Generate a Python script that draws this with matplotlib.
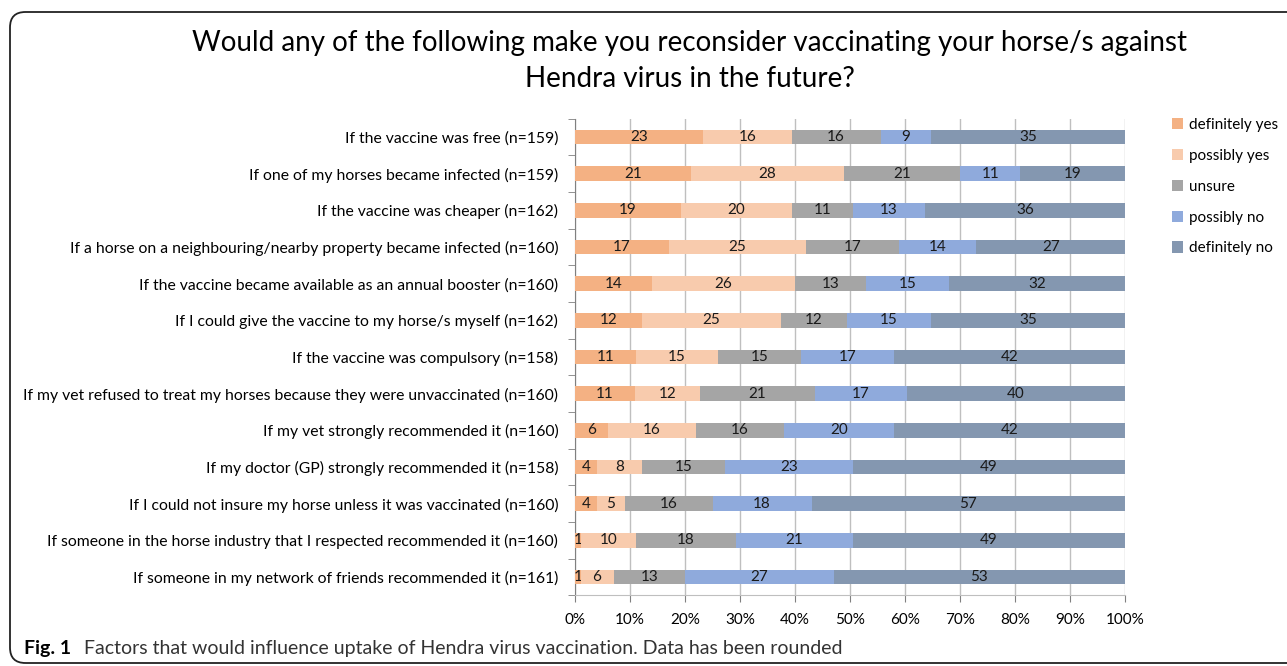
import matplotlib.pyplot as plt
import numpy as np
from matplotlib.patches import FancyBboxPatch
from matplotlib.ticker import FixedLocator, PercentFormatter

plt.rcParams['font.family'] = ['Lato', 'DejaVu Sans']

# data (percent per answer, rounded as in the chart)
questions = [
    "If the vaccine was free (n=159)",
    "If one of my horses became infected (n=159)",
    "If the vaccine was cheaper (n=162)",
    "If a horse on a neighbouring/nearby property became infected (n=160)",
    "If the vaccine became available as an annual booster (n=160)",
    "If I could give the vaccine to my horse/s myself (n=162)",
    "If the vaccine was compulsory (n=158)",
    "If my vet refused to treat my horses because they were unvaccinated (n=160)",
    "If my vet strongly recommended it (n=160)",
    "If my doctor (GP) strongly recommended it (n=158)",
    "If I could not insure my horse unless it was vaccinated (n=160)",
    "If someone in the horse industry that I respected recommended it (n=160)",
    "If someone in my network of friends recommended it (n=161)",
]
answers = ["definitely yes", "possibly yes", "unsure", "possibly no", "definitely no"]
definitely_yes = [23, 21, 19, 17, 14, 12, 11, 11, 6, 4, 4, 1, 1]
possibly_yes = [16, 28, 20, 25, 26, 25, 15, 12, 16, 8, 5, 10, 6]
unsure = [16, 21, 11, 17, 13, 12, 15, 21, 16, 15, 16, 18, 13]
possibly_no = [9, 11, 13, 14, 15, 15, 17, 17, 20, 23, 18, 21, 27]
definitely_no = [35, 19, 36, 27, 32, 35, 42, 40, 42, 49, 57, 49, 53]
colors = ["#F4B183", "#F8CBAD", "#A5A5A5", "#8FAADC", "#8497B0"]

vals = np.array([definitely_yes, possibly_yes, unsure, possibly_no, definitely_no], dtype=float)
shares = vals / vals.sum(axis=0) * 100

fig = plt.figure(figsize=(12.87, 6.66), dpi=100)
ax = fig.add_axes([0.4468, 0.1062, 0.4273, 0.7156])

y = np.arange(len(questions))
left = np.zeros(len(questions))
for i, name in enumerate(answers):
    bars = ax.barh(y, shares[i], left=left, height=0.4, color=colors[i],
                   label=name, zorder=3)
    ax.bar_label(bars, labels=[str(int(v)) for v in vals[i]], label_type='center',
                 fontsize=11, color='#1a1a1a')
    left += shares[i]

ax.set_ylim(len(questions) - 0.5, -0.5)
ax.set_xlim(0, 100)
ax.set_yticks(y)
ax.set_yticklabels(questions, fontsize=11.3)
ax.yaxis.set_minor_locator(FixedLocator(np.arange(-0.5, len(questions), 1)))
ax.tick_params(axis='y', which='major', length=0, pad=12)
ax.tick_params(axis='y', which='minor', length=5, color='#808080')
ax.set_xticks(np.arange(0, 101, 10))
ax.xaxis.set_major_formatter(PercentFormatter(decimals=0))
ax.tick_params(axis='x', length=5, color='#808080', labelsize=11, pad=8)
ax.grid(axis='x', color='#BFBFBF', linewidth=1, zorder=0)
for s in ['top', 'right']:
    ax.spines[s].set_visible(False)
ax.spines['left'].set_color('#808080')
ax.spines['bottom'].set_color('#BFBFBF')

ax.legend(loc='upper left', bbox_to_anchor=(1.06, 1.03), frameon=False,
          fontsize=11, handlelength=0.75, handleheight=0.75, labelspacing=1.1,
          handletextpad=0.4)

fig.text(0.536, 0.935, "Would any of the following make you reconsider vaccinating your horse/s against",
         ha='center', va='center', fontsize=20)
fig.text(0.536, 0.882, "Hendra virus in the future?", ha='center', va='center', fontsize=20)

fig.text(0.019, 0.027, "Fig. 1", fontsize=14, fontweight='bold', va='center')
fig.text(0.065, 0.027, "Factors that would influence uptake of Hendra virus vaccination. Data has been rounded",
         fontsize=14, va='center', color='#333333', family=['Liberation Sans Narrow', 'Lato'])

frame = FancyBboxPatch((10 / 1287, 3 / 666), 1.2, (666 - 12 - 3) / 666,
                       boxstyle="round,pad=0,rounding_size=0.012",
                       transform=fig.transFigure, fill=False, edgecolor='#222222',
                       linewidth=1.3, mutation_aspect=1287 / 666)
fig.patches.append(frame)

fig.savefig('out.png', dpi=100)
